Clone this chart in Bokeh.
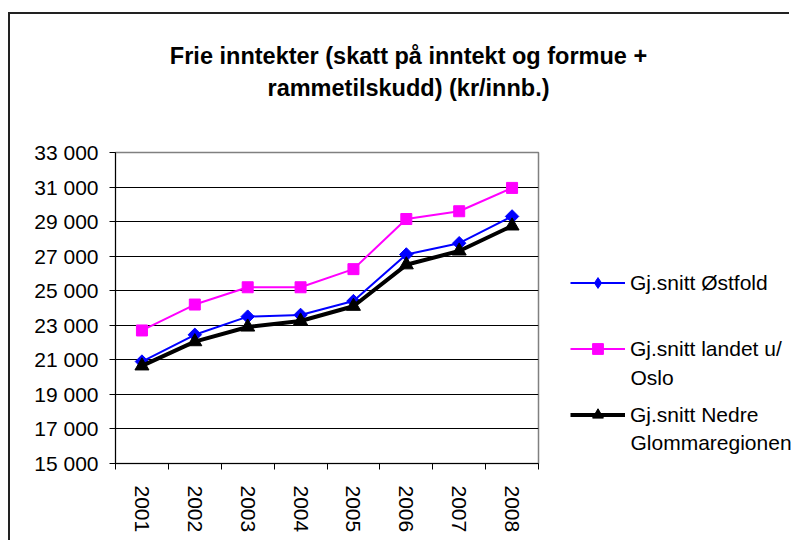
import math
from bokeh.plotting import figure
from bokeh.layouts import column, row
from bokeh.models import Range1d, FixedTicker, Legend, LegendItem, Label
from bokeh.embed import file_html
from bokeh.resources import INLINE

# ---- data ----
years = ["2001", "2002", "2003", "2004", "2005", "2006", "2007", "2008"]
ostfold = [20900, 22450, 23500, 23600, 24400, 27100, 27750, 29300]
landet = [22700, 24200, 25200, 25200, 26250, 29150, 29600, 30950]
nedre = [20650, 22050, 22900, 23250, 24100, 26500, 27300, 28750]
y_ticks = [15000, 17000, 19000, 21000, 23000, 25000, 27000, 29000, 31000, 33000]
y_tick_labels = ["15 000", "17 000", "19 000", "21 000", "23 000", "25 000",
                 "27 000", "29 000", "31 000", "33 000"]
title_lines = ["Frie inntekter (skatt på inntekt og formue +",
               "rammetilskudd) (kr/innb.)"]
series_labels = ["Gj.snitt Østfold", "Gj.snitt landet u/", "Gj.snitt Nedre"]
series_label_2nd = ["", "Oslo", "Glommaregionen"]
series_values = [ostfold, landet, nedre]
colors = ["#0000FF", "#FF00FF", "black"]
widths = [2, 2, 4]

FONT = "Liberation Sans"
TOTAL_W, TOTAL_H = 781, 528
TITLE_H = 124
MAIN_W, MAIN_H = 530, TOTAL_H - TITLE_H
LEG_W = TOTAL_W - MAIN_W
FRAME_H = MAIN_H - 14 - 79

# ---------------- title strip ----------------
pt = figure(width=TOTAL_W, height=TITLE_H, output_backend="svg",
            toolbar_location=None, x_axis_type=None, y_axis_type=None,
            x_range=Range1d(0, TOTAL_W), y_range=Range1d(0, TITLE_H),
            min_border=0, title=None)
pt.outline_line_color = None
pt.background_fill_color = "white"
pt.border_fill_color = "white"
for txt, ty in zip(title_lines, [83, 50.5]):
    pt.add_layout(Label(x=398, y=ty, text=txt, text_font=FONT,
                        text_font_size="23.5px", text_font_style="bold",
                        text_align="center", text_baseline="alphabetic",
                        text_color="black"))

# ---------------- main chart ----------------
xs = [i + 0.5 for i in range(len(years))]

p = figure(width=MAIN_W, height=MAIN_H, output_backend="svg",
           toolbar_location=None,
           x_range=Range1d(0, len(years)), y_range=Range1d(y_ticks[0], y_ticks[-1]),
           min_border_left=105, min_border_right=2, min_border_top=14,
           min_border_bottom=79, title=None)
p.background_fill_color = "white"
p.border_fill_color = "white"
p.outline_line_color = "#808080"
p.outline_line_width = 1.5

p.yaxis.ticker = FixedTicker(ticks=y_ticks)
p.yaxis.major_label_overrides = {t: l for t, l in zip(y_ticks, y_tick_labels)}
p.yaxis.major_tick_out = 6
p.yaxis.major_tick_in = 0
p.yaxis.minor_tick_out = 0
p.yaxis.minor_tick_in = 0
p.yaxis.major_label_standoff = 11
p.yaxis.axis_line_color = "black"
p.yaxis.major_tick_line_color = "black"

p.xaxis.ticker = FixedTicker(ticks=xs, minor_ticks=list(range(len(years) + 1)))
p.xaxis.major_label_overrides = {x: y for x, y in zip(xs, years)}
p.xaxis.major_tick_out = 0
p.xaxis.major_tick_in = 0
p.xaxis.minor_tick_out = 6
p.xaxis.minor_tick_in = 0
p.xaxis.minor_tick_line_color = "black"
p.xaxis.major_label_orientation = -math.pi / 2
p.xaxis.major_label_standoff = 16
p.xaxis.axis_line_color = "black"

for ax in (p.xaxis, p.yaxis):
    ax.major_label_text_font = FONT
    ax.major_label_text_font_size = "21px"
    ax.major_label_text_color = "black"

p.xgrid.visible = False
p.ygrid.ticker = FixedTicker(ticks=y_ticks[1:-1])
p.ygrid.grid_line_color = "black"
p.ygrid.grid_line_width = 1

p.line(xs, ostfold, line_color=colors[0], line_width=widths[0])
p.scatter(xs, ostfold, marker="square", angle=math.pi / 4, size=9.5,
          fill_color=colors[0], line_color=colors[0])
p.line(xs, landet, line_color=colors[1], line_width=widths[1])
p.scatter(xs, landet, marker="square", size=11,
          fill_color=colors[1], line_color=colors[1])
p.line(xs, nedre, line_color=colors[2], line_width=widths[2])
p.scatter(xs, nedre, marker="triangle", size=14,
          fill_color=colors[2], line_color=colors[2])

# ---------------- legend panel ----------------
# frame of this panel is aligned with the main frame; the series drawn here
# fall outside its visible range and only serve the legend
pl = figure(width=LEG_W, height=MAIN_H, output_backend="svg",
            toolbar_location=None, x_axis_type=None, y_axis_type=None,
            x_range=Range1d(0, LEG_W), y_range=Range1d(0, FRAME_H),
            min_border_left=0, min_border_right=0, min_border_top=14,
            min_border_bottom=79, title=None)
pl.outline_line_color = None
pl.background_fill_color = "white"
pl.border_fill_color = "white"

markers = ["diamond", "square", "triangle"]
items = []
for name, vals, c, w, mk in zip(series_labels, series_values, colors, widths, markers):
    lr = pl.line(xs, vals, line_color=c, line_width=w)
    sr = pl.scatter(xs, vals, marker=mk, fill_color=c, line_color=c)
    items.append(LegendItem(label=name, renderers=[lr, sr]))

legend = Legend(items=items, location=(30, 35), padding=0, margin=0,
                spacing=39, glyph_width=55, glyph_height=27, label_height=27,
                label_standoff=5, border_line_color=None,
                background_fill_alpha=0)
legend.label_text_font = FONT
legend.label_text_font_size = "21px"
legend.label_text_color = "black"
pl.add_layout(legend, "center")

for txt, ly in zip(series_label_2nd, [0, 86.5, 21]):
    if txt:
        pl.add_layout(Label(x=90, y=ly, text=txt, text_font=FONT,
                            text_font_size="21px", text_align="left",
                            text_baseline="middle", text_color="black"))

layout = column(pt, row(p, pl))
layout.margin = (14, 0, 0, 10)
layout.styles = {"box-shadow": "-2px -2px 0 0 #222"}

open("out.html", "w").write(file_html(layout, INLINE))
